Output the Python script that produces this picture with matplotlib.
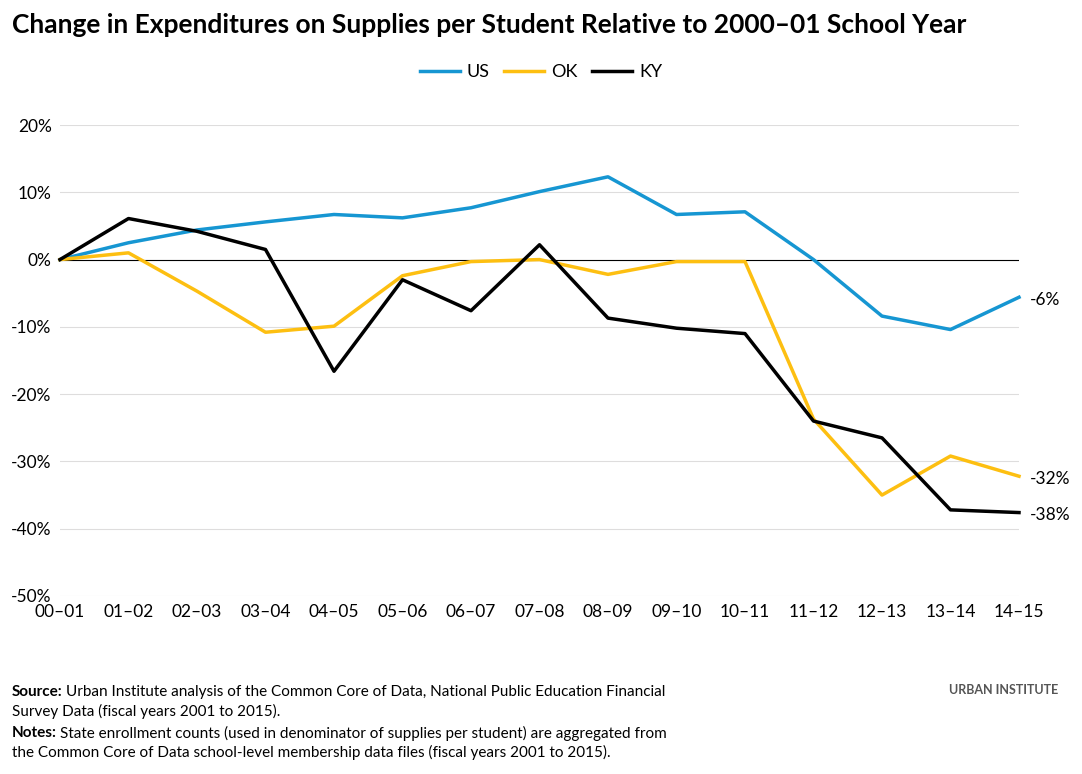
import matplotlib.pyplot as plt
from matplotlib.ticker import FuncFormatter, MultipleLocator

plt.rcParams['font.family'] = ['Lato', 'DejaVu Sans']

years = ["00–01", "01–02", "02–03", "03–04", "04–05", "05–06", "06–07", "07–08",
         "08–09", "09–10", "10–11", "11–12", "12–13", "13–14", "14–15"]
us = [0, 2.5, 4.4, 5.6, 6.7, 6.2, 7.7, 10.1, 12.3, 6.7, 7.1, 0, -8.4, -10.4, -5.6]
ok = [0, 1.0, -4.7, -10.8, -9.9, -2.4, -0.3, 0, -2.2, -0.3, -0.3, -23.7, -35.0, -29.2, -32.2]
ky = [0, 6.1, 4.2, 1.5, -16.6, -3.0, -7.6, 2.2, -8.7, -10.2, -11.0, -24.0, -26.5, -37.2, -37.6]
end_labels = ["-6%", "-32%", "-38%"]

colors = {"US": "#1696d2", "OK": "#fdbf11", "KY": "#000000"}

W, H = 1082, 774
fig = plt.figure(figsize=(W / 100, H / 100), dpi=100)
ax = fig.add_axes([60 / W, 1 - 596 / H, (1019 - 60) / W, (596 - 125) / H])

x = range(len(years))
for name, vals in (("US", us), ("OK", ok), ("KY", ky)):
    ax.plot(x, vals, color=colors[name], lw=2.5, label=name, clip_on=False)

ax.axhline(0, color="black", lw=0.8, zorder=1)
ax.set_xlim(0, len(years) - 1)
ax.set_ylim(-50, 20)
ax.yaxis.set_major_locator(MultipleLocator(10))
ax.yaxis.set_major_formatter(FuncFormatter(lambda v, p: f"{v:.0f}%"))
ax.set_xticks(list(x))
ax.set_xticklabels(years)
ax.grid(axis="y", color="#dedddd", lw=0.8)
ax.set_axisbelow(True)
for s in ax.spines.values():
    s.set_visible(False)
ax.tick_params(length=0, labelsize=12.5, colors="black")
ax.tick_params(axis="y", pad=6)
ax.tick_params(axis="x", pad=6)

for vals, lab in zip((us, ok, ky), end_labels):
    ax.annotate(lab, (len(years) - 1, vals[-1]), xytext=(8, -2), textcoords="offset points",
                va="center", ha="left", fontsize=12.5)

fig.text(12 / W, 1 - 25 / H, "Change in Expenditures on Supplies per Student Relative to 2000–01 School Year",
         fontsize=19, fontweight="bold", va="center")
fig.legend(loc="center", bbox_to_anchor=(0.5, 1 - 72 / H), ncol=3, frameon=False,
           fontsize=13, handlelength=2.2, columnspacing=0.8, handletextpad=0.4)

renderer = fig.canvas.get_renderer()


def note(y, head, lines):
    t = fig.text(12 / W, 1 - y / H, head, fontsize=11, fontweight="bold", va="center")
    wpx = t.get_window_extent(renderer).width
    fig.text(12 / W + (wpx + 3) / W, 1 - y / H, lines[0], fontsize=11, va="center")
    fig.text(12 / W, 1 - (y + 19) / H, lines[1], fontsize=11, va="center")


note(692, "Source:", ["Urban Institute analysis of the Common Core of Data, National Public Education Financial",
                      "Survey Data (fiscal years 2001 to 2015)."])
note(733, "Notes:", ["State enrollment counts (used in denominator of supplies per student) are aggregated from",
                     "the Common Core of Data school-level membership data files (fiscal years 2001 to 2015)."])
fig.text(1058 / W, 1 - 690 / H, "URBAN INSTITUTE", fontsize=9, fontweight="bold", ha="right",
         va="center", color="#555555")

fig.savefig("out.png", dpi=100)
